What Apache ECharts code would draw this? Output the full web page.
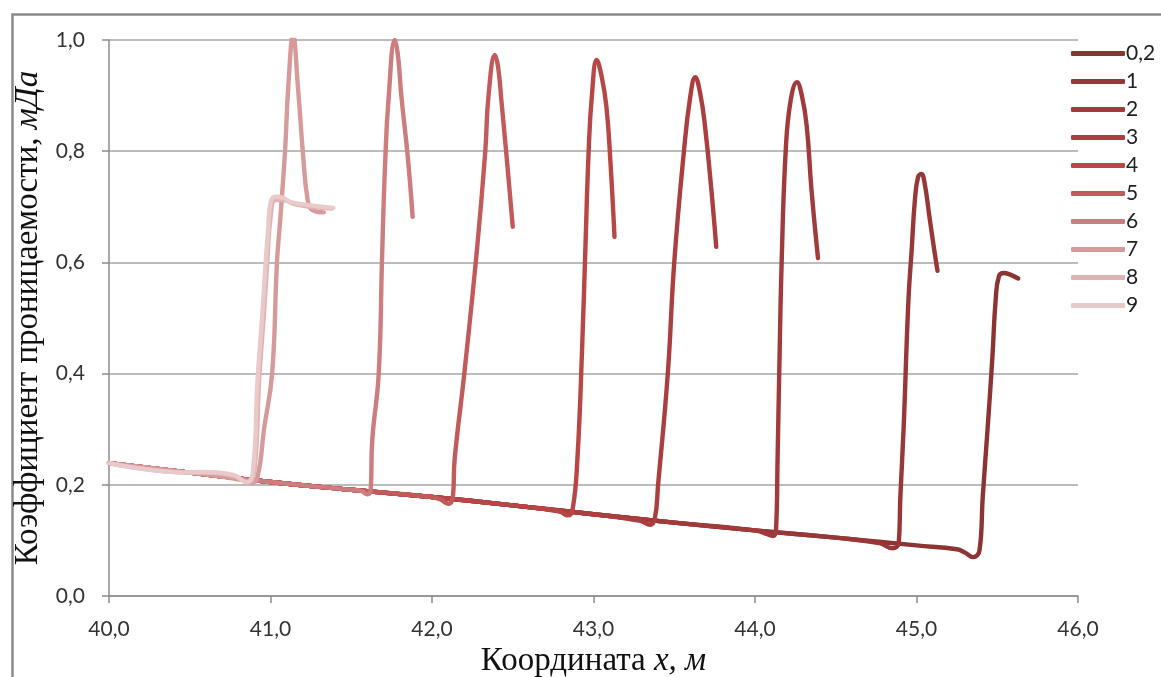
<!DOCTYPE html>
<html>
<head>
<meta charset="utf-8">
<script src="https://cdn.jsdelivr.net/npm/echarts@6/dist/echarts.min.js"></script>
<style>
    html, body { margin: 0; padding: 0; background: #fff; }
    #chart { width: 1161px; height: 677px; }
</style>
</head>
<body>
<div id="chart"></div>
<script>
// названия кривых (легенда)
var seriesNames = ['0,2', '1', '2', '3', '4', '5', '6', '7', '8', '9'];
var seriesColors = ['#8C3434', '#973737', '#A13A3A', '#AB3E3E', '#B94646', '#C35A5A', '#CD7D7D', '#D69A9A', '#DFB3B3', '#E9C9C9'];

// общий "фон" проницаемости до фронта, [x, k]
var baseline = [[40.0, 0.239], [40.5, 0.222], [41.0, 0.205], [41.5, 0.191], [42.0, 0.178], [42.5, 0.163],
    [43.0, 0.147], [43.5, 0.132], [44.0, 0.118], [44.5, 0.105], [45.0, 0.091], [45.25, 0.084]];

// участки у фронта для каждой кривой
var tail02 = [[45.30, 0.078], [45.35, 0.070], [45.39, 0.082], [45.41, 0.178], [45.44, 0.30], [45.47, 0.43], [45.49, 0.532],
    [45.51, 0.575], [45.54, 0.581], [45.58, 0.578], [45.63, 0.571]];
var tail1 = [[44.77, 0.095], [44.85, 0.086], [44.89, 0.095], [44.90, 0.178], [44.92, 0.30], [44.95, 0.532], [44.97, 0.622],
    [44.99, 0.712], [45.01, 0.754], [45.03, 0.759], [45.05, 0.743], [45.08, 0.682], [45.11, 0.622], [45.13, 0.585]];
var tail2 = [[44.05, 0.114], [44.11, 0.108], [44.13, 0.118], [44.14, 0.25], [44.15, 0.40], [44.165, 0.60], [44.19, 0.80],
    [44.22, 0.89], [44.26, 0.924], [44.29, 0.90], [44.32, 0.846], [44.35, 0.73], [44.39, 0.608]];
var tail3 = [[43.29, 0.135], [43.35, 0.128], [43.38, 0.14], [43.40, 0.20], [43.46, 0.40], [43.50, 0.60], [43.56, 0.80],
    [43.60, 0.90], [43.63, 0.933], [43.66, 0.905], [43.69, 0.846], [43.73, 0.73], [43.76, 0.628]];
var tail4 = [[42.79, 0.152], [42.84, 0.145], [42.87, 0.155], [42.90, 0.245], [42.93, 0.45], [42.95, 0.628], [42.97, 0.80],
    [42.99, 0.90], [43.02, 0.964], [43.05, 0.935], [43.08, 0.88], [43.105, 0.78], [43.13, 0.646]];
var tail5 = [[42.05, 0.174], [42.10, 0.166], [42.13, 0.18], [42.14, 0.245], [42.20, 0.40], [42.28, 0.628], [42.33, 0.80],
    [42.35, 0.90], [42.39, 0.973], [42.41, 0.95], [42.43, 0.89], [42.465, 0.78], [42.50, 0.664]];
var tail6 = [[41.56, 0.189], [41.60, 0.183], [41.62, 0.19], [41.63, 0.28], [41.67, 0.40], [41.69, 0.60], [41.70, 0.70],
    [41.71, 0.78], [41.73, 0.89], [41.77, 1.0], [41.79, 0.97], [41.81, 0.90], [41.85, 0.79], [41.88, 0.682]];
var tail7 = [[40.84, 0.208], [40.88, 0.203], [40.92, 0.215], [40.96, 0.30], [41.01, 0.40], [41.04, 0.60], [41.06, 0.676],
    [41.09, 0.80], [41.11, 0.915], [41.14, 1.009], [41.17, 0.915], [41.20, 0.80], [41.23, 0.712], [41.26, 0.694], [41.33, 0.69]];
var tail8 = [[40.56, 0.222], [40.78, 0.215], [40.86, 0.204], [40.90, 0.225], [40.93, 0.39], [40.96, 0.51], [40.98, 0.60],
    [41.0, 0.68], [41.03, 0.712], [41.08, 0.712], [41.15, 0.705], [41.25, 0.70], [41.38, 0.697]];
var tail9 = [[40.56, 0.223], [40.77, 0.218], [40.85, 0.205], [40.89, 0.221], [40.92, 0.389], [40.95, 0.509], [40.97, 0.599],
    [40.985, 0.658], [41.0, 0.707], [41.03, 0.718], [41.08, 0.716], [41.12, 0.709], [41.24, 0.703], [41.39, 0.698]];
var tails = [tail02, tail1, tail2, tail3, tail4, tail5, tail6, tail7, tail8, tail9];

var xTicks = { min: 40, max: 46, step: 1 };
var yTicks = { min: 0, max: 1, step: 0.2 };

function commaFmt(v) {
    return v.toFixed(1).replace('.', ',');
}

// кривая = фон до начала фронта + участок фронта
function buildCurve(tail) {
    var pts = baseline.filter(function (p) {
        return p[0] < tail[0][0];
    });
    return pts.concat(tail);
}

var chart = echarts.init(document.getElementById('chart'));
var series = seriesNames.map(function (name, i) {
    return {
        name: name,
        type: 'line',
        data: buildCurve(tails[i]),
        smooth: 0.45,
        showSymbol: false,
        symbol: 'none',
        lineStyle: { color: seriesColors[i], width: 4.4, cap: 'round', join: 'round' },
        itemStyle: { color: seriesColors[i] },
        emphasis: { disabled: true },
        z: 2 + i
    };
});

chart.setOption({
    animation: false,
    backgroundColor: '#fff',
    graphic: [{
        type: 'rect',
        left: 10, top: 12,
        shape: { width: 1180, height: 700 },
        style: { fill: 'none', stroke: '#8a8a8a', lineWidth: 2.5 },
        silent: true
    }],
    grid: { left: 109, right: 83, top: 40, bottom: 81, containLabel: false, outerBoundsMode: 'none' },
    legend: {
        orient: 'vertical',
        left: 1066, top: 38,
        icon: 'roundRect',
        itemWidth: 54, itemHeight: 5,
        itemGap: 7,
        textStyle: { fontFamily: 'Lato', fontSize: 21, color: '#222', lineHeight: 20, padding: [0, 0, 0, -4] },
        data: seriesNames
    },
    xAxis: {
        type: 'value',
        min: xTicks.min, max: xTicks.max, interval: xTicks.step,
        name: '{a|Координата }{b|x, м}',
        nameLocation: 'middle',
        nameGap: 44,
        nameTextStyle: {
            rich: {
                a: { fontFamily: 'Liberation Serif', fontSize: 33, color: '#111' },
                b: { fontFamily: 'Liberation Serif', fontSize: 33, color: '#111', fontStyle: 'italic' }
            }
        },
        axisLine: { lineStyle: { color: '#8c8c8c', width: 1.5 } },
        axisTick: { show: true, length: 7, lineStyle: { color: '#8c8c8c', width: 1.5 } },
        axisLabel: { fontFamily: 'Lato', fontSize: 21, color: '#333', margin: 23, formatter: commaFmt },
        splitLine: { show: false }
    },
    yAxis: {
        type: 'value',
        min: yTicks.min, max: yTicks.max, interval: yTicks.step,
        name: '{a|Коэффициент проницаемости, }{b|мДа}',
        nameLocation: 'middle',
        nameRotate: 90,
        nameGap: 52,
        nameTextStyle: {
            rich: {
                a: { fontFamily: 'Liberation Serif', fontSize: 33, color: '#111' },
                b: { fontFamily: 'Liberation Serif', fontSize: 33, color: '#111', fontStyle: 'italic' }
            }
        },
        axisLine: { show: true, lineStyle: { color: '#8c8c8c', width: 1.5 } },
        axisTick: { show: true, length: 7, lineStyle: { color: '#8c8c8c', width: 1.5 } },
        axisLabel: { fontFamily: 'Lato', fontSize: 21, color: '#333', margin: 24, formatter: commaFmt },
        splitLine: { lineStyle: { color: '#a6a6a6', width: 1.5 } }
    },
    series: series
});
</script>
</body>
</html>
